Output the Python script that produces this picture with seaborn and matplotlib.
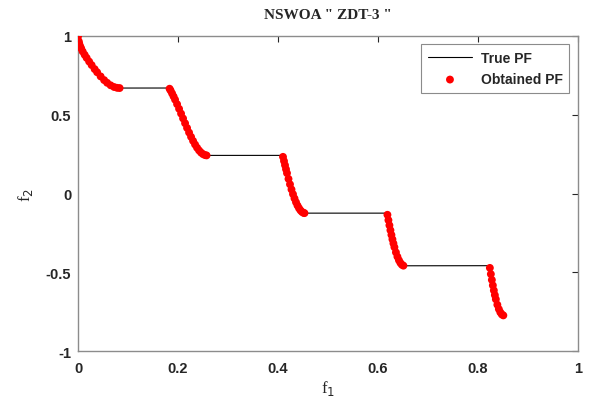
import numpy as np
import pandas as pd
import seaborn as sns
import matplotlib.pyplot as plt

# true Pareto front of ZDT-3
true_f1 = [0.0, 0.005, 0.01, 0.02, 0.03, 0.04, 0.05, 0.06, 0.07, 0.08, 0.083,
           0.1822, 0.186, 0.19, 0.195, 0.20, 0.205, 0.21, 0.215, 0.22, 0.225, 0.23, 0.235, 0.24, 0.245, 0.25, 0.2578,
           0.4093, 0.415, 0.42, 0.425, 0.43, 0.435, 0.44, 0.445, 0.45, 0.4539,
           0.6184, 0.622, 0.626, 0.63, 0.634, 0.638, 0.642, 0.646, 0.65, 0.6525,
           0.8233, 0.826, 0.83, 0.834, 0.838, 0.842, 0.846, 0.85, 0.8518]
true_f2 = [1.0, 0.9285, 0.8969, 0.8468, 0.8025, 0.7620, 0.7264, 0.6980, 0.6788, 0.6701, 0.6696,
           0.6698, 0.6479, 0.6228, 0.5889, 0.5528, 0.5151, 0.4768, 0.4387, 0.4017, 0.3666, 0.3343, 0.3058, 0.2818, 0.2630, 0.25, 0.2422,
           0.2423, 0.1674, 0.1050, 0.0476, -0.0036, -0.0471, -0.0818, -0.1066, -0.1208, -0.1242,
           -0.1242, -0.1852, -0.2476, -0.3034, -0.3518, -0.3919, -0.4230, -0.4446, -0.4562, -0.4583,
           -0.4577, -0.5110, -0.5825, -0.6440, -0.6946, -0.7332, -0.7591, -0.7720, -0.7733]

# solutions found by NSWOA
obt_f1 = [0.0, 0.001, 0.002, 0.004, 0.006, 0.009, 0.013, 0.017, 0.022, 0.027, 0.033, 0.038, 0.045, 0.052,
          0.058, 0.065, 0.072, 0.078, 0.083,
          0.183, 0.185, 0.188, 0.191, 0.194, 0.198, 0.202, 0.206, 0.21, 0.214, 0.218, 0.222, 0.226, 0.23,
          0.234, 0.238, 0.242, 0.246, 0.25, 0.254, 0.257,
          0.41, 0.412, 0.414, 0.416, 0.418, 0.421, 0.424, 0.427, 0.43, 0.433, 0.436, 0.439, 0.442, 0.445,
          0.448, 0.451, 0.453,
          0.619, 0.621, 0.623, 0.625, 0.627, 0.629, 0.631, 0.633, 0.636, 0.639, 0.642, 0.645, 0.648, 0.651,
          0.824, 0.826, 0.828, 0.83, 0.832, 0.834, 0.836, 0.839, 0.842, 0.845, 0.848, 0.851]
obt_f2 = [1.0, 0.968, 0.955, 0.9363, 0.922, 0.902, 0.8808, 0.861, 0.8377, 0.8154, 0.7899, 0.7698, 0.7435, 0.7201,
          0.703, 0.6871, 0.6762, 0.671, 0.6696,
          0.6653, 0.6539, 0.6356, 0.6163, 0.5959, 0.5674, 0.5379, 0.5075, 0.4768, 0.4463, 0.4163, 0.3873, 0.3598, 0.3343,
          0.3112, 0.2908, 0.2737, 0.2599, 0.25, 0.244, 0.2422,
          0.233, 0.2064, 0.1803, 0.1546, 0.1295, 0.0932, 0.0586, 0.0262, -0.0036, -0.0307, -0.0548, -0.0757, -0.0929, -0.1066,
          -0.1164, -0.1224, -0.1241,
          -0.1347, -0.1686, -0.2013, -0.2325, -0.2621, -0.2901, -0.3163, -0.3404, -0.373, -0.4006, -0.423, -0.4402, -0.4517, -0.4575,
          -0.4717, -0.511, -0.5479, -0.5825, -0.6146, -0.644, -0.6707, -0.7054, -0.7332, -0.7538, -0.7672, -0.7731]

xticks = [0, 0.2, 0.4, 0.6, 0.8, 1]
xticklabels = ['0', '0.2', '0.4', '0.6', '0.8', '1']
yticks = [-1, -0.5, 0, 0.5, 1]
yticklabels = ['-1', '-0.5', '0', '0.5', '1']

true_df = pd.DataFrame({'f1': true_f1, 'f2': true_f2})
obt_df = pd.DataFrame({'f1': obt_f1, 'f2': obt_f2})

sns.set_style('white')
plt.rcParams['font.family'] = ['Liberation Sans', 'DejaVu Sans']

fig = plt.figure(figsize=(5.92, 4.02), dpi=100)
ax = fig.add_axes([0.132, 0.124, 0.844, 0.784])

sns.lineplot(data=true_df, x='f1', y='f2', sort=False, color='black', linewidth=0.8,
             label='True PF', ax=ax)
sns.scatterplot(data=obt_df, x='f1', y='f2', color='#ff0000', s=32, edgecolor='none',
                label='Obtained PF', ax=ax, zorder=3)

ax.set_xlim(0, 1)
ax.set_ylim(-1, 1)
ax.set_xticks(xticks)
ax.set_xticklabels(xticklabels, fontsize=10.5, fontweight='bold')
ax.set_yticks(yticks)
ax.set_yticklabels(yticklabels, fontsize=10.5, fontweight='bold')
ax.tick_params(direction='in', length=4, width=0.8, color='#262626',
               top=True, right=True, labelcolor='#262626')
ax.tick_params(axis='x', pad=7)
ax.tick_params(axis='y', pad=5)
for sp in ax.spines.values():
    sp.set_color('#8c8c8c')
    sp.set_linewidth(1.0)

ax.set_xlabel(r'f$_1$', family='Liberation Serif', fontsize=12, labelpad=2)
ax.set_ylabel(r'f$_2$', family='Liberation Serif', fontsize=12, labelpad=8)
ax.set_title('NSWOA " ZDT-3 "', family='Liberation Serif', fontsize=11, fontweight='bold', pad=13)

leg = ax.legend(loc='upper right', prop={'weight': 'bold', 'size': 10},
                frameon=True, fancybox=False, edgecolor='#6e6e6e', borderpad=0.5,
                handlelength=3.2, handletextpad=0.6, labelspacing=0.5, borderaxespad=0.6)
leg.get_frame().set_linewidth(0.8)

plt.savefig('out.png', dpi=100)
